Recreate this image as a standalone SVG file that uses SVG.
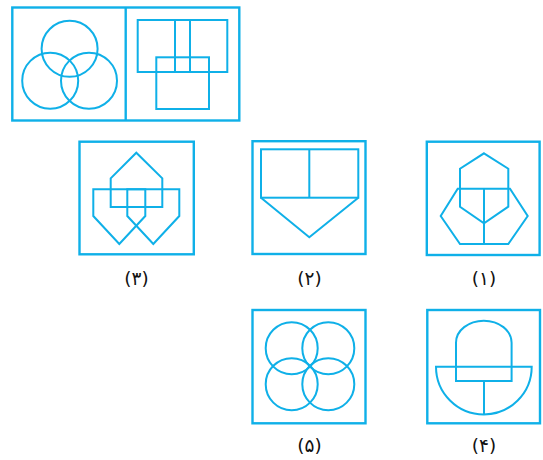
<svg xmlns="http://www.w3.org/2000/svg" width="543" height="460" viewBox="0 0 543 460">
<style>
.s{fill:none;stroke:#0fb0e8;stroke-width:2;stroke-linejoin:miter}
.f{fill:none;stroke:#0fb0e8;stroke-width:2.4}
.t{font-family:"DejaVu Sans","Noto Sans",sans-serif;font-size:18.5px;fill:#111;text-anchor:middle}
</style>
<rect width="543" height="460" fill="#fff"/>
<g id="header">
<rect class="f" x="12.3" y="7.5" width="227" height="113"/>
<line class="f" x1="125.7" y1="7.5" x2="125.7" y2="120.5"/>
<circle class="s" cx="69.6" cy="48.8" r="28"/>
<circle class="s" cx="50.2" cy="80.7" r="28"/>
<circle class="s" cx="89" cy="80.7" r="28"/>
<rect class="s" x="137.7" y="20" width="89.6" height="52"/>
<rect class="s" x="175" y="20" width="15" height="52"/>
<rect class="s" x="156.3" y="57.3" width="52.7" height="51.7"/>
</g>
<g id="fig3">
<rect class="f" x="79.5" y="141.7" width="114.3" height="112.6"/>
<path class="s" d="M110.7,207 V178.3 L136.3,152.7 L162.3,178.3 V207 Z"/>
<path class="s" d="M93.3,189.3 H145.3 V216 L119.3,244 L93.3,216 Z"/>
<path class="s" d="M127.3,189.3 H179.3 V216 L153.3,244 L127.3,216 Z"/>
<text class="t" x="136.5" y="285">(۳)</text>
</g>
<g id="fig2">
<rect class="f" x="252.5" y="141.2" width="113" height="112.8"/>
<rect class="s" x="261" y="149.3" width="97.3" height="48.4"/>
<line class="s" x1="309.3" y1="149.3" x2="309.3" y2="197.7"/>
<path class="s" d="M261,197.7 L309.3,237.3 L358.3,197.7"/>
<text class="t" x="309.5" y="285">(۲)</text>
</g>
<g id="fig1">
<rect class="f" x="426.8" y="141.7" width="112.8" height="113.3"/>
<path class="s" d="M484,153.3 L508.3,168.7 V206.7 L484,223.3 L460,206.7 V168.7 Z"/>
<path class="s" d="M457.7,188.7 H510 L527.7,216 L508.3,244 H460 L440.7,216 Z"/>
<line class="s" x1="484" y1="188.7" x2="484" y2="244"/>
<text class="t" x="484" y="285">(۱)</text>
</g>
<g id="fig5">
<rect class="f" x="252.5" y="310" width="113" height="113.3"/>
<circle class="s" cx="291.7" cy="348.2" r="26"/>
<circle class="s" cx="328.3" cy="348.2" r="26"/>
<circle class="s" cx="291.7" cy="384.2" r="26"/>
<circle class="s" cx="328.3" cy="384.2" r="26"/>
<text class="t" x="309.5" y="452">(۵)</text>
</g>
<g id="fig4">
<rect class="f" x="427.3" y="310" width="112.7" height="113.3"/>
<path class="s" d="M456,381 V342.7 A27.8,22 0 0 1 511.6,342.7 V381 Z"/>
<path class="s" d="M436,366.7 H531.7 A47.85,47.7 0 0 1 436,366.7 Z"/>
<line class="s" x1="484" y1="381" x2="484" y2="414.4"/>
<text class="t" x="484" y="452">(۴)</text>
</g>
</svg>
